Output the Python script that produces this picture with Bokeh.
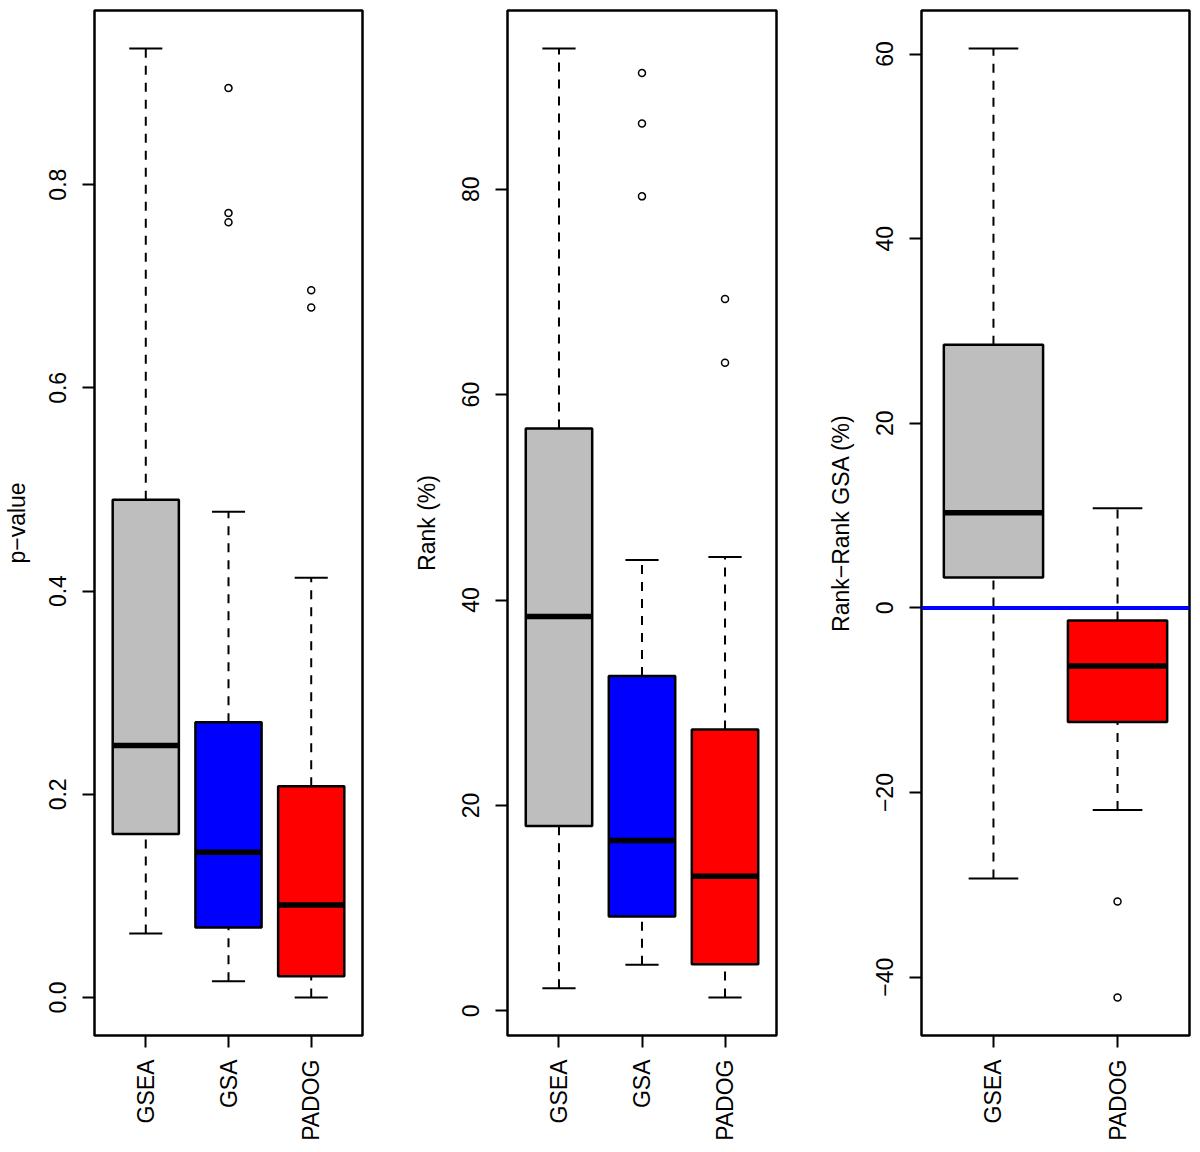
import numpy as np
from bokeh.plotting import figure
from bokeh.models import Range1d, FixedTicker, ColumnDataSource, Span
from bokeh.layouts import row
from bokeh.embed import file_html
from bokeh.resources import INLINE

FONT = "Liberation Sans"
FS = "23px"
MINUS = "\u2212"

# ---------------- Panel 1: p-value ----------------
pv_methods = ["GSEA", "GSA", "PADOG"]
pv_colors = ["#BEBEBE", "#0000FF", "#FF0000"]
pv_low = [0.063, 0.016, 0.000]
pv_q1 = [0.161, 0.069, 0.021]
pv_median = [0.248, 0.143, 0.091]
pv_q3 = [0.490, 0.271, 0.208]
pv_high = [0.934, 0.478, 0.413]
pv_outliers = [[], [0.895, 0.772, 0.763], [0.696, 0.679]]
pv_ticks = [0.0, 0.2, 0.4, 0.6, 0.8]
pv_tick_labels = ["0.0", "0.2", "0.4", "0.6", "0.8"]
pv_ylabel = "p" + MINUS + "value"

# ---------------- Panel 2: Rank (%) ----------------
rk_methods = ["GSEA", "GSA", "PADOG"]
rk_colors = ["#BEBEBE", "#0000FF", "#FF0000"]
rk_low = [2.2, 4.5, 1.3]
rk_q1 = [18.0, 9.2, 4.55]
rk_median = [38.4, 16.6, 13.1]
rk_q3 = [56.7, 32.6, 27.4]
rk_high = [93.7, 43.9, 44.2]
rk_outliers = [[], [91.3, 86.4, 79.3], [69.3, 63.1]]
rk_ticks = [0, 20, 40, 60, 80]
rk_tick_labels = ["0", "20", "40", "60", "80"]
rk_ylabel = "Rank (%)"

# ---------------- Panel 3: Rank - Rank GSA (%) ----------------
df_methods = ["GSEA", "PADOG"]
df_colors = ["#BEBEBE", "#FF0000"]
df_low = [-29.3, -21.9]
df_q1 = [3.3, -12.35]
df_median = [10.3, -6.3]
df_q3 = [28.5, -1.37]
df_high = [60.6, 10.8]
df_outliers = [[], [-31.8, -42.2]]
df_ticks = [-40, -20, 0, 20, 40, 60]
df_tick_labels = [MINUS + "40", MINUS + "20", "0", "20", "40", "60"]
df_ylabel = "Rank" + MINUS + "Rank GSA (%)"
df_ref_line = 0

H = 1152
TOP = 10
FRAME_H = 1025


def make_panel(methods, colors, low, q1, med, q3, high, outliers,
               ticks, tick_labels, ylabel, width, bl, br, label_standoff=20,
               ref_line=None):
    n = len(methods)
    xs = np.arange(1, n + 1)
    vals = list(low) + list(high) + [v for o in outliers for v in o]
    lo, hi = min(vals), max(vals)
    pad = 0.04 * (hi - lo)
    xpad = 0.04 * n
    p = figure(width=width, height=H,
               x_range=Range1d(0.5 - xpad, n + 0.5 + xpad),
               y_range=Range1d(lo - pad, hi + pad),
               output_backend="svg", toolbar_location=None,
               min_border_left=bl, min_border_right=br,
               min_border_top=TOP, min_border_bottom=H - TOP - FRAME_H)
    p.grid.visible = False
    p.outline_line_color = "black"
    p.outline_line_width = 2.5
    p.outline_line_alpha = 1.0
    p.background_fill_color = "white"
    p.border_fill_color = "white"

    src = ColumnDataSource(dict(
        x=xs, left=xs - 0.4, right=xs + 0.4, sl=xs - 0.2, sr=xs + 0.2,
        low=low, q1=q1, med=med, q3=q3, high=high, color=colors))

    p.segment(x0="x", y0="q3", x1="x", y1="high", source=src,
              line_color="black", line_width=2, line_dash="9 8")
    p.segment(x0="x", y0="low", x1="x", y1="q1", source=src,
              line_color="black", line_width=2, line_dash="9 8")
    p.segment(x0="sl", y0="high", x1="sr", y1="high", source=src,
              line_color="black", line_width=2)
    p.segment(x0="sl", y0="low", x1="sr", y1="low", source=src,
              line_color="black", line_width=2)
    p.quad(left="left", right="right", bottom="q1", top="q3", source=src,
           fill_color="color", line_color="black", line_width=2.5)
    p.segment(x0="left", y0="med", x1="right", y1="med", source=src,
              line_color="black", line_width=5.5, line_cap="butt")

    ox = [xs[i] for i, o in enumerate(outliers) for _ in o]
    oy = [v for o in outliers for v in o]
    if ox:
        p.scatter(x=ox, y=oy, marker="circle", size=7, fill_color=None,
                  line_color="black", line_width=1.5)

    if ref_line is not None:
        p.add_layout(Span(location=ref_line, dimension="width",
                          line_color="#0000FF", line_width=4))

    p.xaxis.ticker = FixedTicker(ticks=[int(x) for x in xs])
    p.xaxis.major_label_overrides = {int(x): m for x, m in zip(xs, methods)}
    p.yaxis.ticker = FixedTicker(ticks=ticks)
    p.yaxis.major_label_overrides = {t: l for t, l in zip(ticks, tick_labels)}

    p.axis.axis_line_color = None
    p.axis.major_tick_out = 12
    p.axis.major_tick_in = 0
    p.axis.major_tick_line_width = 2
    p.axis.major_tick_line_color = "black"
    p.axis.minor_tick_line_color = None
    p.axis.major_label_text_font = FONT
    p.axis.major_label_text_font_size = FS
    p.axis.major_label_text_color = "black"
    p.xaxis.major_label_orientation = np.pi / 2
    p.yaxis.major_label_orientation = "vertical"
    p.xaxis.major_label_standoff = 12
    p.yaxis.major_label_standoff = 16

    p.yaxis.axis_label = ylabel
    p.yaxis.axis_label_text_font = FONT
    p.yaxis.axis_label_text_font_size = FS
    p.yaxis.axis_label_text_font_style = "normal"
    p.yaxis.axis_label_text_color = "black"
    p.yaxis.axis_label_standoff = label_standoff
    return p


# figure extents: [0,410], [410,820], [820,1192]; frames at 94-362, 507-776, 921-1189
p1 = make_panel(pv_methods, pv_colors, pv_low, pv_q1, pv_median, pv_q3, pv_high,
                pv_outliers, pv_ticks, pv_tick_labels, pv_ylabel, 410, 94, 48,
                label_standoff=17)
p2 = make_panel(rk_methods, rk_colors, rk_low, rk_q1, rk_median, rk_q3, rk_high,
                rk_outliers, rk_ticks, rk_tick_labels, rk_ylabel, 410, 97, 44)
p3 = make_panel(df_methods, df_colors, df_low, df_q1, df_median, df_q3, df_high,
                df_outliers, df_ticks, df_tick_labels, df_ylabel, 372, 101, 3,
                ref_line=df_ref_line)

layout = row(p1, p2, p3)
open("out.html", "w").write(file_html(layout, INLINE))
